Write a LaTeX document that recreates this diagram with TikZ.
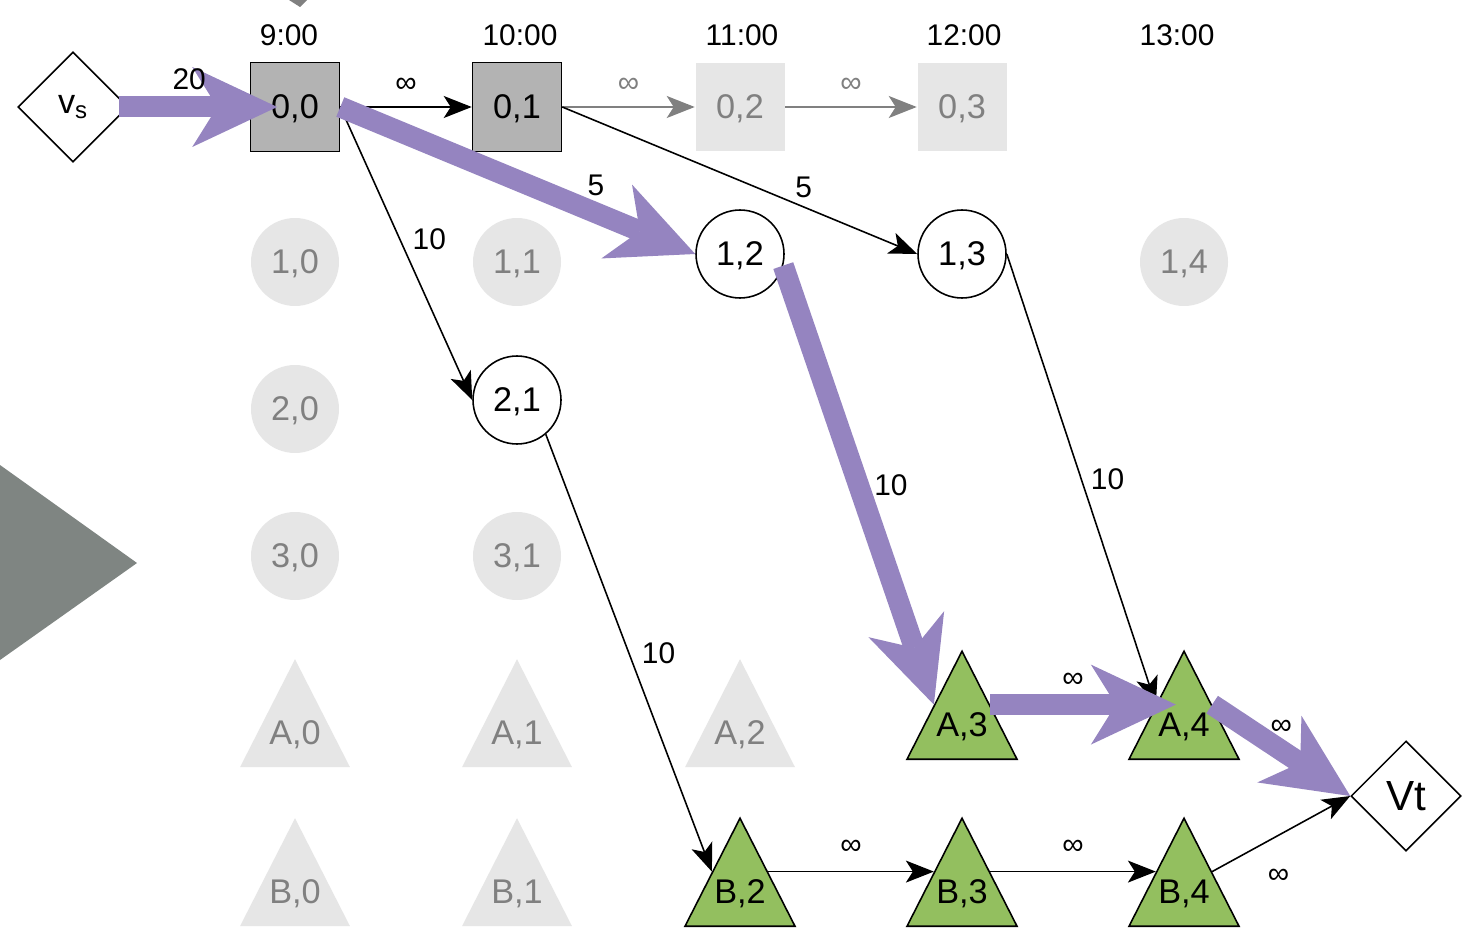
\documentclass[tikz,border=0pt]{standalone}
\usepackage{fontspec}
\setmainfont{Liberation Sans}
\usetikzlibrary{arrows.meta,shapes.geometric}
\definecolor{Canvas}{HTML}{FFFFFF}
\definecolor{Flow}{HTML}{9584C0}
\definecolor{Leaf}{HTML}{93BF5F}
\definecolor{Slab}{HTML}{B3B3B3}
\definecolor{Muted}{HTML}{E6E6E6}
\definecolor{MutedText}{HTML}{808080}
\definecolor{Wedge}{HTML}{7F8582}

\tikzset{
  lab/.style={font=\fontsize{17}{20}\selectfont,inner sep=1pt},
  sq/.style={draw,fill=Slab,line width=0.9pt,minimum size=1.78cm,inner sep=0pt,text depth=0pt,font=\fontsize{19.5}{22}\selectfont},
  ghostsq/.style={sq,draw=none,fill=Muted,text=MutedText},
  dot/.style={circle,draw,fill=white,line width=0.9pt,minimum size=1.76cm,inner sep=0pt,text depth=0pt,font=\fontsize{19.5}{22}\selectfont},
  ghostdot/.style={dot,draw=none,fill=Muted,text=MutedText},
  tri/.style={isosceles triangle,isosceles triangle stretches,shape border rotate=90,minimum width=2.2cm,minimum height=2.16cm,inner sep=0pt,draw,fill=Leaf,line width=0.9pt,anchor=lower side,font=\fontsize{19.5}{22}\selectfont},
  ghosttri/.style={tri,draw=none,fill=Muted,text=MutedText},
  term/.style={diamond,draw,fill=white,minimum width=2.2cm,minimum height=2.2cm,inner sep=0pt,line width=0.9pt},
  arc/.style={-{Stealth[length=0.56cm,width=0.44cm,inset=0.14cm]},line width=0.9pt},
  ghostarc/.style={arc,draw=MutedText,fill=MutedText},
  flow/.style={-{Stealth[length=1.7cm,width=1.6cm,inset=0.5cm,line width=0pt]},draw=Flow,line width=0.42cm},
}

\begin{document}
\begin{tikzpicture}[x=0.02cm,y=-0.02cm]
\fill[Canvas] (0,0) rectangle (1462,932);
\useasboundingbox (0,0) rectangle (1462,932);
\fill[Wedge] (0,465)--(137,563)--(0,660)--cycle;
\fill[MutedText] (289,0)--(307,0)--(300,7)--cycle;
% time axis
\foreach \i/\x/\t in {0/289/9:00,1/520/10:00,2/742/11:00,3/964/12:00,4/1177/13:00}{\node[lab] (t\i) at (\x,35) {\t};}
% source and sink
\node[term,font=\fontsize{19.5}{22}\selectfont] (vs) at (73,107) {v\textsubscript{s}};
\node[term,font=\fontsize{24}{28}\selectfont] (vt) at (1406,796) {Vt};
% depot row
\node[sq] (n00) at (295,107) {0,0};
\node[sq] (n01) at (517,107) {0,1};
\node[ghostsq] (n02) at (740,107) {0,2};
\node[ghostsq] (n03) at (962,107) {0,3};
% customers
\foreach \r/\c/\x/\y in {1/0/295/262,1/1/517/262,1/4/1184/262,2/0/295/409,3/0/295/556,3/1/517/556}{\node[ghostdot] (n\r\c) at (\x,\y) {\r,\c};}
\node[dot] (n12) at (740,254) {1,2};
\node[dot] (n13) at (962,254) {1,3};
\node[dot] (n21) at (517,400) {2,1};
% vehicles
\foreach \v/\c/\x/\y in {A/0/295/768,A/1/517/768,A/2/740/768,B/0/295/927,B/1/517/927}{\node[ghosttri] (\v\c) at (\x,\y) {\raisebox{0.1cm}[0pt][0pt]{\v,\c}};}
\foreach \v/\c/\x/\y in {A/3/962/760,A/4/1184/760,B/2/740/927,B/3/962/927,B/4/1184/927}{\node[tri] (\v\c) at (\x,\y) {\raisebox{0.1cm}[0pt][0pt]{\v,\c}};}
% plain arcs
\draw[arc] (n00.east) -- node[lab,above=7pt] (w1) {∞} (n01.west);
\draw[ghostarc] (n01.east) -- node[lab,above=7pt,text=MutedText] (w2) {∞} (n02.west);
\draw[ghostarc] (n02.east) -- node[lab,above=7pt,text=MutedText] (w3) {∞} (n03.west);
\draw[arc] (n01.east) -- node[lab,pos=.68,above=4pt] (w4) {5} (n13.west);
\draw[arc] (n00.east) -- node[lab,pos=.45,right=6pt] (w5) {10} (n21.west);
\draw[arc] (n21.-50) -- node[lab,pos=.5,right=6pt] (w6) {10} (B2.left side);
\draw[arc] (n13.east) -- node[lab,pos=.5,right=4pt] (w7) {10} (A4.left side);
\draw[arc] (B2.right side) -- node[lab,above=8pt] (w8) {∞} (B3.left side);
\draw[arc] (B3.right side) -- node[lab,above=8pt] (w9) {∞} (B4.left side);
\draw[arc] (B4.right side) -- node[lab,pos=.48,below=18pt] (w10) {∞} (vt.west);
% chosen route
\draw[flow,shorten <=-0.2cm,shorten >=-0.55cm] (vs.east) -- node[lab,pos=.5,above=3pt] (w11) {20} (n00.west);
\draw[flow] (n00.east) -- node[lab,pos=.72,above=3pt] (w12) {5} (n12.west);
\draw[flow] (n12.-15) -- node[lab,pos=.5,right=2pt] (w13) {10} (A3.left side);
\draw[flow,shorten >=-0.4cm] (A3.right side) -- node[lab,above=3pt] (w14) {∞} (A4.left side);
\draw[flow] (A4.right side) -- node[lab,pos=.5,above=2pt] (w15) {∞} (vt.west);
\end{tikzpicture}
\end{document}
